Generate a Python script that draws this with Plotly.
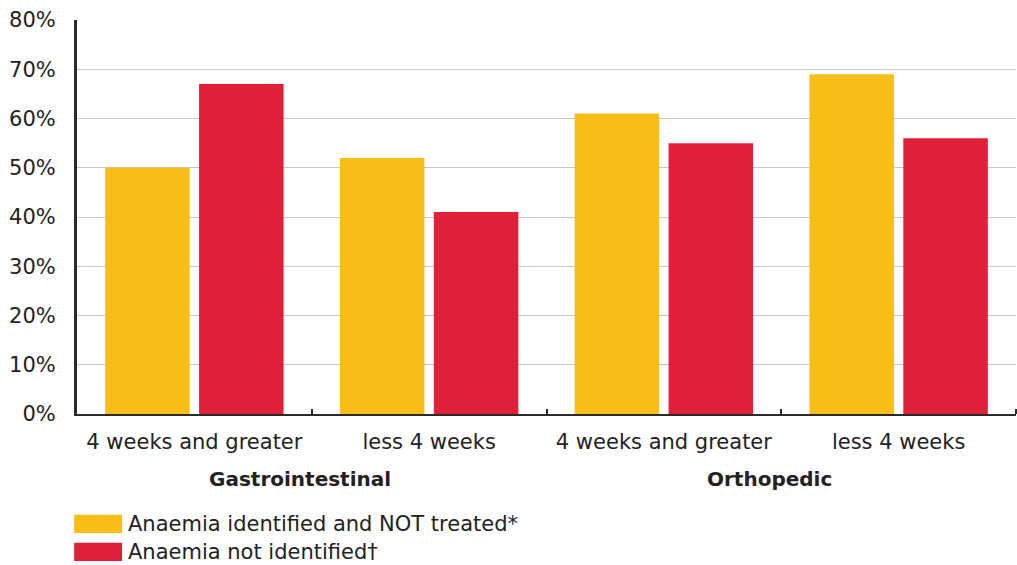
import plotly.graph_objects as go

groups = ["Gastrointestinal", "Gastrointestinal", "Orthopedic", "Orthopedic"]
durations = ["4 weeks and greater", "less 4 weeks", "4 weeks and greater", "less 4 weeks"]
series_names = ["Anaemia identified and NOT treated*", "Anaemia not identified\u2020"]
identified_not_treated = [50, 52, 61, 69]
not_identified = [67, 41, 55, 56]
colors = ["#F6BE16", "#E01F38"]
y_ticks = [0, 10, 20, 30, 40, 50, 60, 70, 80]
y_ticktext = [f"{v}%" for v in y_ticks]

FONT = "DejaVu Sans"
TXT = "#222222"
AX = "#2a2a2a"
FS = 21

xpos = list(range(len(durations)))

fig = go.Figure()
for name, vals, col in zip(series_names, [identified_not_treated, not_identified], colors):
    fig.add_trace(go.Bar(x=xpos, y=vals, name=name,
                         marker=dict(color=col, line=dict(width=0)), showlegend=False))

# group labels centred under their categories
uniq_groups = list(dict.fromkeys(groups))
for g in uniq_groups:
    idx = [i for i, gg in enumerate(groups) if gg == g]
    fig.add_annotation(text=f"<b>{g}</b>", xref="x", yref="paper",
                       x=sum(idx) / len(idx), y=-0.165, xshift=-12,
                       xanchor="center", yanchor="middle", showarrow=False,
                       font=dict(family=FONT, size=20, color=TXT))

# custom legend
for i, (name, col) in enumerate(zip(series_names, colors)):
    yc = -0.279 - i * 0.071
    fig.add_shape(type="rect", xref="paper", yref="paper",
                  x0=-0.003, x1=0.048, y0=yc - 0.023, y1=yc + 0.023,
                  fillcolor=col, line=dict(width=0))
    fig.add_annotation(text=name, xref="paper", yref="paper", x=0.052, y=yc,
                       xanchor="left", yanchor="middle", showarrow=False,
                       font=dict(family=FONT, size=FS, color=TXT))

fig.update_layout(
    width=1017, height=565,
    margin=dict(l=77, r=1, t=20, b=151),
    paper_bgcolor="white", plot_bgcolor="white",
    barmode="group", bargap=0.2, bargroupgap=0.1,
    font=dict(family=FONT, size=FS, color=TXT),
)
fig.update_xaxes(
    range=[-0.5, len(durations) - 0.5],
    tickmode="array", tickvals=xpos, ticktext=durations, ticks="",
    ticklabelstandoff=8,
    minor=dict(tickmode="array", tickvals=[i + 0.5 for i in xpos],
               ticks="inside", ticklen=5, tickwidth=2, tickcolor=AX, showgrid=False),
    showline=True, linecolor=AX, linewidth=2,
    tickfont=dict(family=FONT, size=FS, color=TXT),
    showgrid=False, zeroline=False,
)
fig.update_yaxes(
    range=[0, 80], tickvals=y_ticks, ticktext=y_ticktext,
    showline=True, linecolor=AX, linewidth=3,
    showgrid=True, gridcolor="#c8c8c8", gridwidth=1,
    ticks="", ticklabelstandoff=14,
    tickfont=dict(family=FONT, size=FS, color=TXT),
    zeroline=False,
)

fig.write_html("out.html")
